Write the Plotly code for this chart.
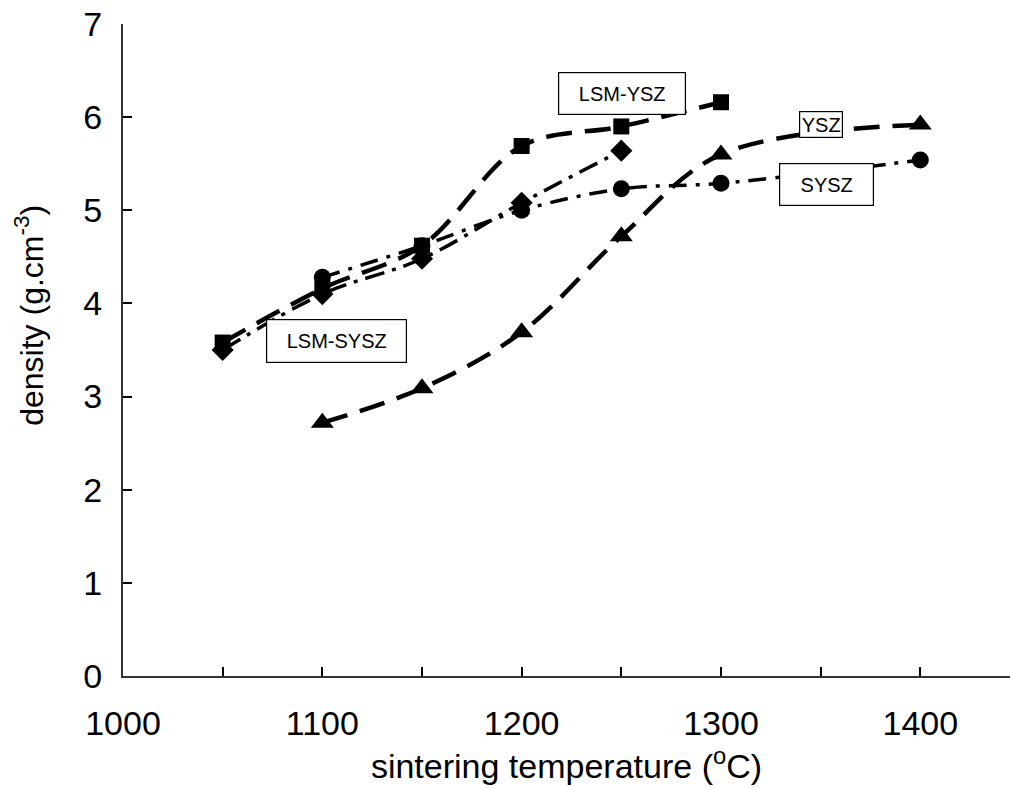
import plotly.graph_objects as go

# sintering temperatures (°C)
temps_lsm_ysz = [1050, 1100, 1150, 1200, 1250, 1300]
dens_lsm_ysz = [3.58, 4.16, 4.62, 5.69, 5.90, 6.16]

temps_lsm_sysz = [1050, 1100, 1150, 1200, 1250]
dens_lsm_sysz = [3.50, 4.10, 4.48, 5.08, 5.64]

temps_sysz = [1100, 1150, 1200, 1250, 1300, 1400]
dens_sysz = [4.28, 4.62, 5.00, 5.23, 5.29, 5.54]

temps_ysz = [1100, 1150, 1200, 1250, 1300, 1400]
dens_ysz = [2.72, 3.09, 3.69, 4.72, 5.60, 5.92]

x_ticks = [1000, 1100, 1200, 1300, 1400]
y_ticks = [0, 1, 2, 3, 4, 5, 6, 7]

FONT = "Liberation Sans, Arial, sans-serif"

fig = go.Figure()

def add(x, y, name, symbol, msize, dash, width):
    fig.add_trace(go.Scatter(
        x=x, y=y, name=name, mode="lines+markers",
        line=dict(color="black", width=width, dash=dash, shape="spline", smoothing=1.0),
        marker=dict(symbol=symbol, size=msize, color="black"),
        showlegend=False,
    ))

add(temps_lsm_sysz, dens_lsm_sysz, "LSM-SYSZ", "diamond", 17, "20px,8px,4px,8px", 3.5)
add(temps_sysz, dens_sysz, "SYSZ", "circle", 17, "18px,9px,4px,9px", 3.5)
add(temps_ysz, dens_ysz, "YSZ", "triangle-up", 20, "26px,13px", 4.5)
add(temps_lsm_ysz, dens_lsm_ysz, "LSM-YSZ", "square", 16, "26px,13px", 4.5)

def label(text, x, y, w, h):
    fig.add_annotation(
        x=x, y=y, xref="x", yref="y", text=text, showarrow=False,
        font=dict(family=FONT, size=20, color="black"),
        bgcolor="white", bordercolor="black", borderwidth=1.2,
        width=w, height=h, borderpad=0,
    )

label("LSM-YSZ", 1250.5, 6.25, 126, 41)
label("YSZ", 1350, 5.92, 42, 25)
label("SYSZ", 1353, 5.28, 93, 41)
label("LSM-SYSZ", 1107, 3.6, 139, 42)

# y-axis title
fig.add_annotation(
    x=-0.106, y=0.554, xref="paper", yref="paper",
    xanchor="center", yanchor="middle",
    text="density (g.cm<sup>-3</sup>)", textangle=-90, showarrow=False,
    font=dict(family=FONT, size=32, color="black"),
)

fig.update_layout(
    width=1010, height=788,
    margin=dict(l=123, r=0, t=24, b=112),
    paper_bgcolor="white", plot_bgcolor="white",
    font=dict(family=FONT, color="black"),
    xaxis=dict(
        range=[1000, 1445], tickvals=x_ticks,
        showgrid=False, zeroline=False,
        showline=True, linecolor="#333", linewidth=2,
        ticks="inside", ticklen=9, tickwidth=1.5, tickcolor="black",
        tickfont=dict(family=FONT, size=34),
        ticklabelstandoff=16,
        minor=dict(ticks="inside", ticklen=9, tickwidth=1.5, dtick=50, tickcolor="black"),
        title=dict(text="sintering temperature (<sup>o</sup>C)",
                   font=dict(family=FONT, size=34), standoff=6),
    ),
    yaxis=dict(
        range=[0, 7], tickvals=y_ticks,
        showgrid=False, zeroline=False,
        showline=True, linecolor="#333", linewidth=2,
        ticks="inside", ticklen=9, tickwidth=1.5, tickcolor="black",
        tickfont=dict(family=FONT, size=34),
        ticklabelstandoff=12,
    ),
)

fig.write_html("out.html", config={"displayModeBar": False},
               post_script="document.body.style.margin='0';")
